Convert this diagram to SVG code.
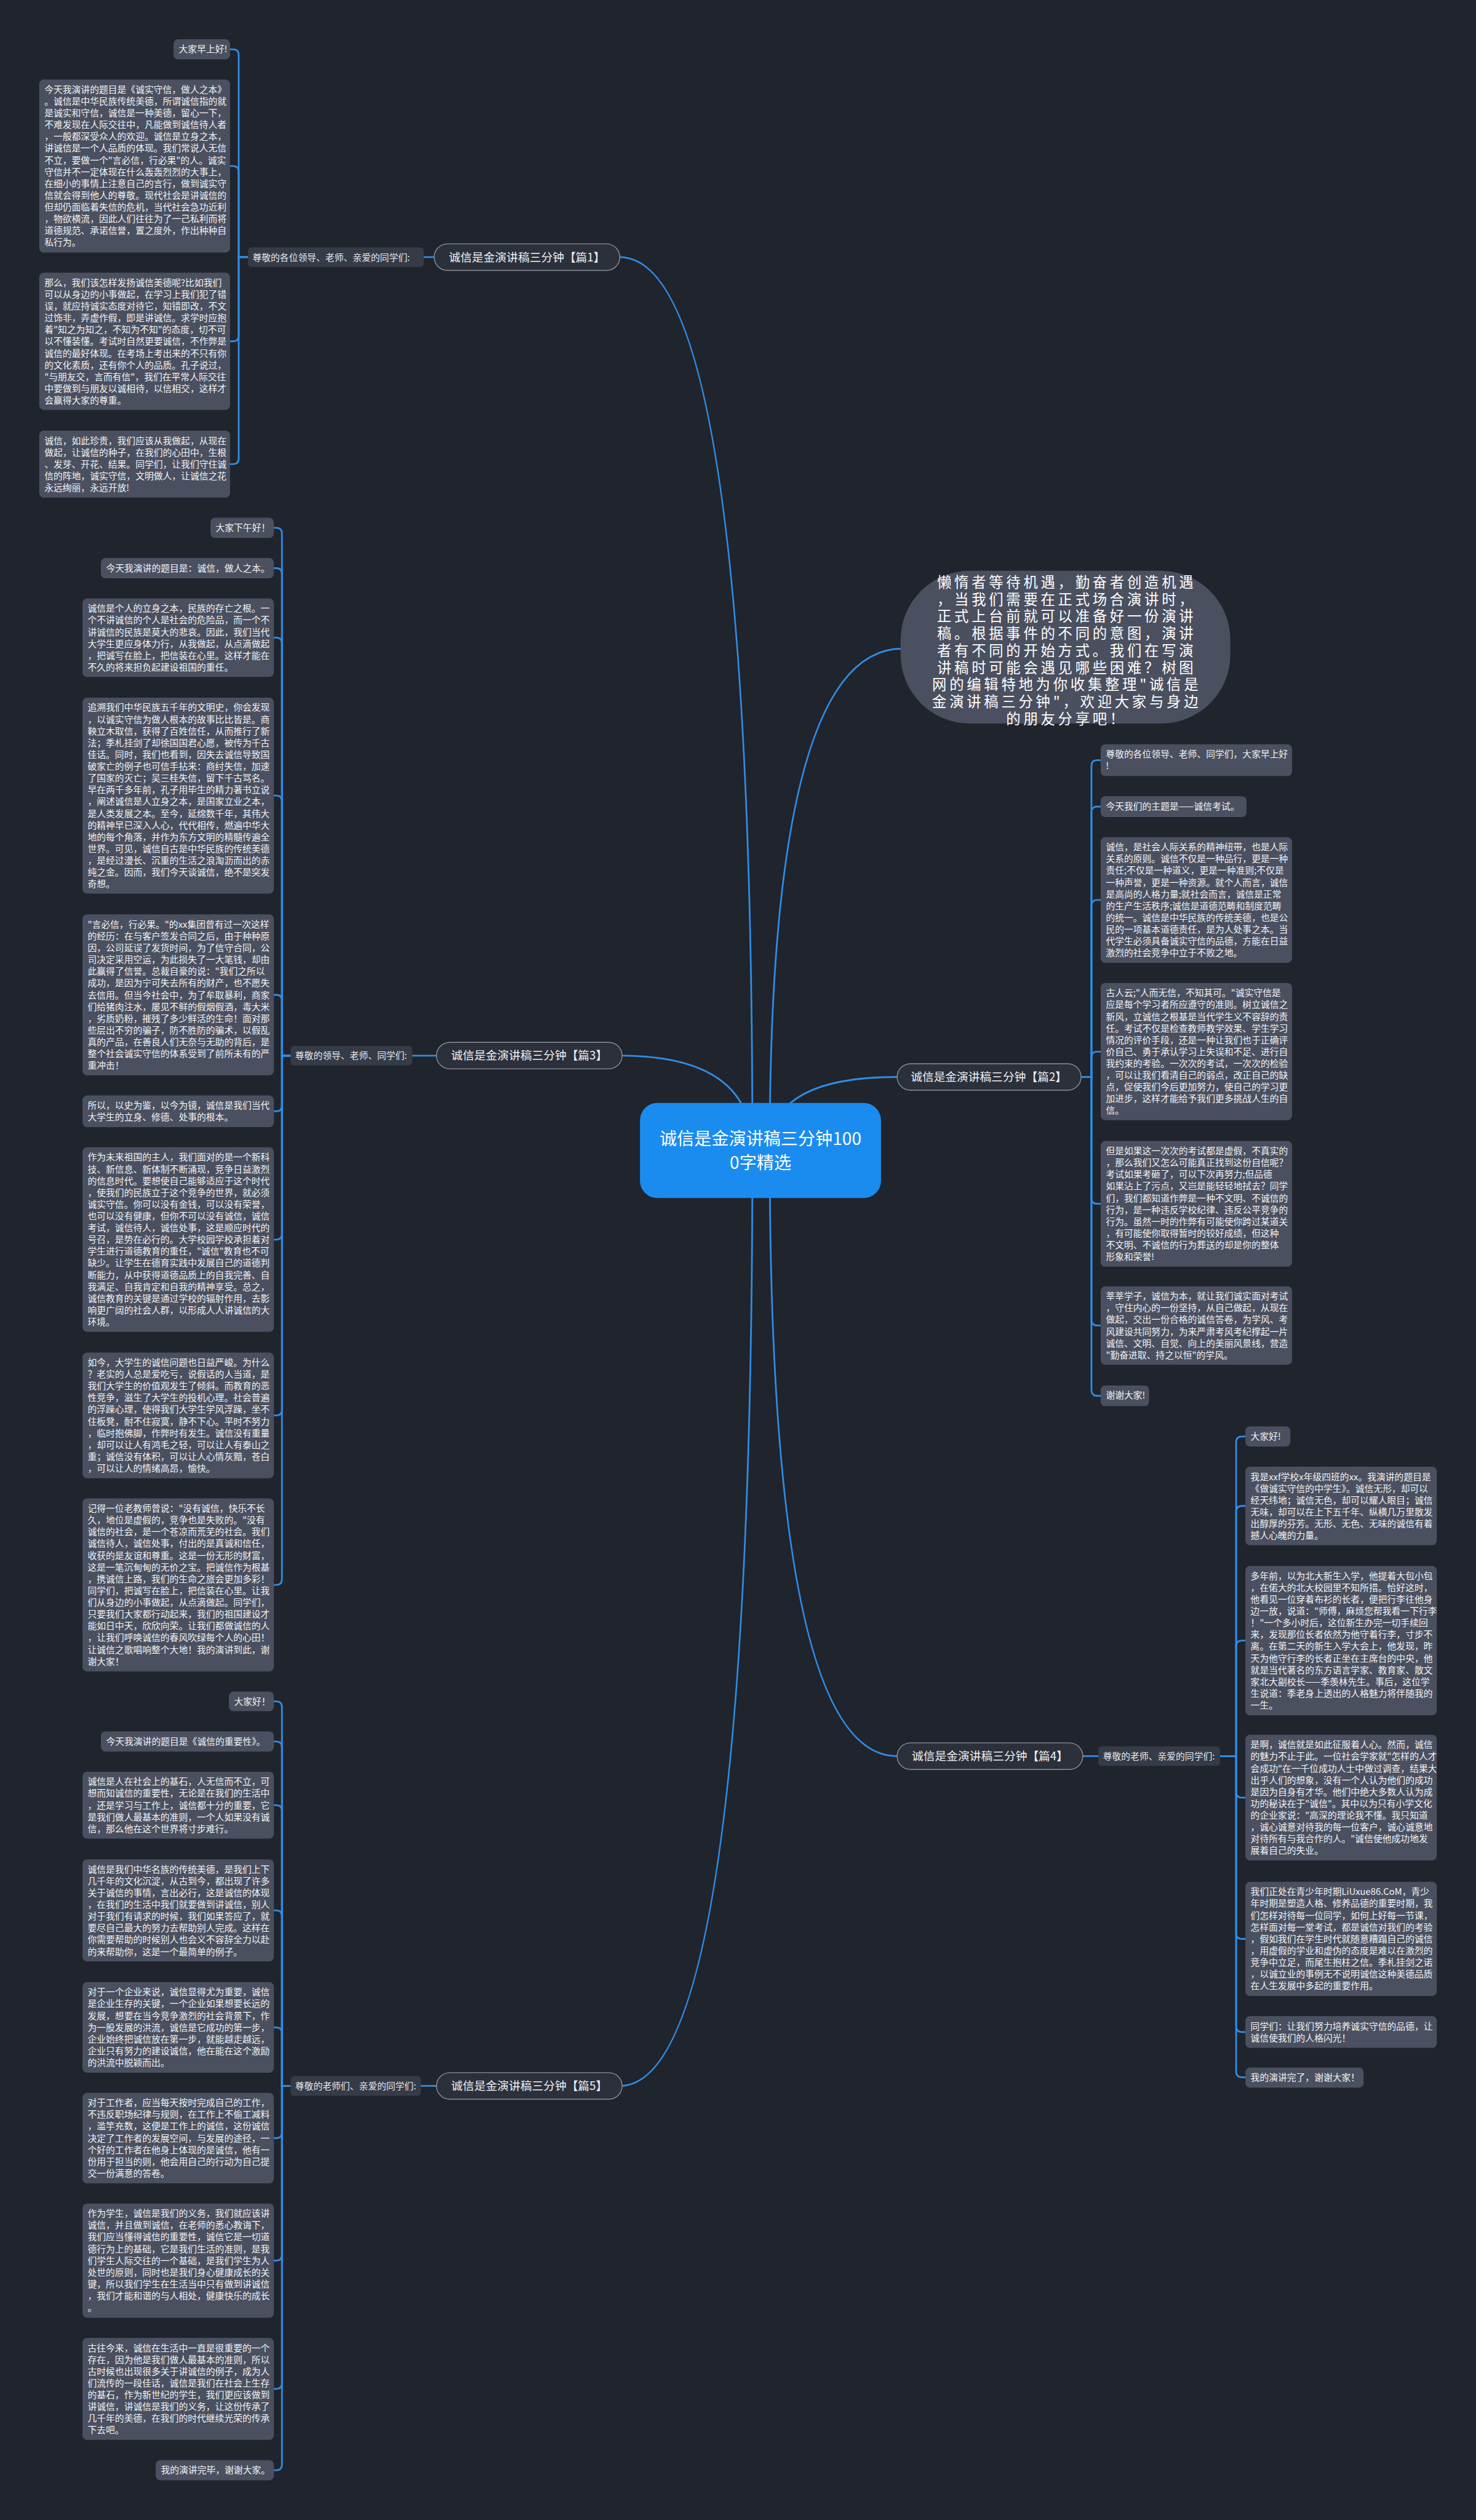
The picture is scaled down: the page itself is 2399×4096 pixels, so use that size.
<svg xmlns="http://www.w3.org/2000/svg" width="2399" height="4096" viewBox="0 0 2399 4096">
<style>
.bg{fill:#20242d}
.box{fill:#4a5060}
.t{font-family:"Noto Sans CJK SC","Noto Sans CJK JP",sans-serif;font-size:15.8px;fill:#f3f4f6}
.lab{fill:#353b47}
.lt{font-family:"Noto Sans CJK SC","Noto Sans CJK JP",sans-serif;font-size:15.8px;fill:#e8eaee}
.sec{fill:#2b303b;stroke:#8a909c;stroke-width:1.5}
.st{font-family:"Noto Sans CJK SC","Noto Sans CJK JP",sans-serif;font-size:20px;fill:#eef0f3;text-anchor:middle}
.c{fill:none;stroke:#2f8de4;stroke-width:3;stroke-linecap:round}
.root{fill:#1a8cf0}
.rt{font-family:"Noto Sans CJK SC","Noto Sans CJK JP",sans-serif;font-size:30px;fill:#ffffff;text-anchor:middle}
.bub{fill:#4a5060}
.bt{font-family:"Noto Sans CJK SC","Noto Sans CJK JP",sans-serif;font-size:25px;letter-spacing:5px;fill:#ffffff;text-anchor:middle}
</style>
<rect class="bg" x="0" y="0" width="2399" height="4096"/>
<g transform="scale(0.93711)">
<g id="connectors">
<path class="c" d="M1305,1995 Q1305,446 1075,446"/>
<path class="c" d="M1305,1995 Q1305,1831 1075,1831"/>
<path class="c" d="M1305,1995 Q1305,3618 1075,3618"/>
<path class="c" d="M1335,1995 Q1335,1868 1556,1868"/>
<path class="c" d="M1335,1995 Q1335,3046 1556,3046"/>
<path class="c" d="M1335,1995 Q1335,1125 1565,1125"/>
<path class="c" d="M735,446 H753"/>
<path class="c" d="M715,1831 H757"/>
<path class="c" d="M730,3618 H757"/>
<path class="c" d="M1878,3046 H1905"/>
<path class="c" d="M430,446 H414 V95.5 Q414,85.5 404,85.5 H399"/>
<path class="c" d="M430,446 H414 V298 Q414,288 404,288 H399"/>
<path class="c" d="M430,446 H414 V582 Q414,592 404,592 H399"/>
<path class="c" d="M430,446 H414 V795 Q414,805 404,805 H399"/>
<path class="c" d="M504,1831 H489 V925.5 Q489,915.5 479,915.5 H475"/>
<path class="c" d="M504,1831 H489 V995.5 Q489,985.5 479,985.5 H475"/>
<path class="c" d="M504,1831 H489 V1116 Q489,1106 479,1106 H475"/>
<path class="c" d="M504,1831 H489 V1390 Q489,1380 479,1380 H475"/>
<path class="c" d="M504,1831 H489 V1735.5 Q489,1725.5 479,1725.5 H475"/>
<path class="c" d="M504,1831 H489 V1917.5 Q489,1927.5 479,1927.5 H475"/>
<path class="c" d="M504,1831 H489 V2140 Q489,2150 479,2150 H475"/>
<path class="c" d="M504,1831 H489 V2445 Q489,2455 479,2455 H475"/>
<path class="c" d="M504,1831 H489 V2739 Q489,2749 479,2749 H475"/>
<path class="c" d="M504,3618 H489 V2961 Q489,2951 479,2951 H475"/>
<path class="c" d="M504,3618 H489 V3030.5 Q489,3020.5 479,3020.5 H475"/>
<path class="c" d="M504,3618 H489 V3141 Q489,3131 479,3131 H475"/>
<path class="c" d="M504,3618 H489 V3323.5 Q489,3313.5 479,3313.5 H475"/>
<path class="c" d="M504,3618 H489 V3526.5 Q489,3516.5 479,3516.5 H475"/>
<path class="c" d="M504,3618 H489 V3698.5 Q489,3708.5 479,3708.5 H475"/>
<path class="c" d="M504,3618 H489 V3911 Q489,3921 479,3921 H475"/>
<path class="c" d="M504,3618 H489 V4133.5 Q489,4143.5 479,4143.5 H475"/>
<path class="c" d="M504,3618 H489 V4274.5 Q489,4284.5 479,4284.5 H475"/>
<path class="c" d="M1875,1868 H1893 V1328.5 Q1893,1318.5 1903,1318.5 H1909"/>
<path class="c" d="M1875,1868 H1893 V1409 Q1893,1399 1903,1399 H1909"/>
<path class="c" d="M1875,1868 H1893 V1571 Q1893,1561 1903,1561 H1909"/>
<path class="c" d="M1875,1868 H1893 V1834 Q1893,1824 1903,1824 H1909"/>
<path class="c" d="M1875,1868 H1893 V2078 Q1893,2088 1903,2088 H1909"/>
<path class="c" d="M1875,1868 H1893 V2289 Q1893,2299 1903,2299 H1909"/>
<path class="c" d="M1875,1868 H1893 V2411 Q1893,2421 1903,2421 H1909"/>
<path class="c" d="M2116,3046 H2144 V2501.5 Q2144,2491.5 2154,2491.5 H2160"/>
<path class="c" d="M2116,3046 H2144 V2622 Q2144,2612 2154,2612 H2160"/>
<path class="c" d="M2116,3046 H2144 V2855.5 Q2144,2845.5 2154,2845.5 H2160"/>
<path class="c" d="M2116,3046 H2144 V3108 Q2144,3118 2154,3118 H2160"/>
<path class="c" d="M2116,3046 H2144 V3353 Q2144,3363 2154,3363 H2160"/>
<path class="c" d="M2116,3046 H2144 V3514.5 Q2144,3524.5 2154,3524.5 H2160"/>
<path class="c" d="M2116,3046 H2144 V3593 Q2144,3603 2154,3603 H2160"/>
</g>

<g id="root">
<rect class="root" x="1110" y="1913" width="418" height="165" rx="30"/>
<text class="rt" x="1319" y="1986">诚信是金演讲稿三分钟100</text>
<text class="rt" x="1319" y="2028">0字精选</text>
</g>

<g id="intro">
<rect class="bub" x="1562" y="990" width="572" height="265" rx="120"/>
<text class="bt" x="1850" y="1019">懒惰者等待机遇，勤奋者创造机遇<tspan x="1850" dy="29.6">，当我们需要在正式场合演讲时，</tspan><tspan x="1850" dy="29.6">正式上台前就可以准备好一份演讲</tspan><tspan x="1850" dy="29.6">稿。根据事件的不同的意图，演讲</tspan><tspan x="1850" dy="29.6">者有不同的开始方式。我们在写演</tspan><tspan x="1850" dy="29.6">讲稿时可能会遇见哪些困难？树图</tspan><tspan x="1850" dy="29.6">网的编辑特地为你收集整理"诚信是</tspan><tspan x="1850" dy="29.6">金演讲稿三分钟"，欢迎大家与身边</tspan><tspan x="1850" dy="29.6">的朋友分享吧！</tspan></text>
</g>

<g id="sec1">
<rect class="sec" x="753" y="423" width="322" height="46" rx="23"/>
<text class="st" x="914" y="453">诚信是金演讲稿三分钟【篇1】</text>
</g>
<g id="sec1-label">
<rect class="lab" x="430" y="429" width="305" height="34" rx="6"/>
<text class="lt" x="438" y="452">尊敬的各位领导、老师、亲爱的同学们:</text>
</g>
<g id="s1n1"><rect class="box" x="301" y="68" width="98" height="35" rx="8"/><text class="t" x="310" y="91">大家早上好!</text></g>
<g id="s1n2"><rect class="box" x="68" y="138" width="331" height="300" rx="8"/>
<text class="t" x="77" y="161">今天我演讲的题目是《诚实守信，做人之本》<tspan x="77" dy="20.4">。诚信是中华民族传统美德，所谓诚信指的就</tspan><tspan x="77" dy="20.4">是诚实和守信，诚信是一种美德，留心一下，</tspan><tspan x="77" dy="20.4">不难发现在人际交往中，凡能做到诚信待人者</tspan><tspan x="77" dy="20.4">，一般都深受众人的欢迎。诚信是立身之本，</tspan><tspan x="77" dy="20.4">讲诚信是一个人品质的体现。我们常说人无信</tspan><tspan x="77" dy="20.4">不立，要做一个"言必信，行必果"的人。诚实</tspan><tspan x="77" dy="20.4">守信并不一定体现在什么轰轰烈烈的大事上，</tspan><tspan x="77" dy="20.4">在细小的事情上注意自己的言行，做到诚实守</tspan><tspan x="77" dy="20.4">信就会得到他人的尊敬。现代社会是讲诚信的</tspan><tspan x="77" dy="20.4">但却仍面临着失信的危机，当代社会急功近利</tspan><tspan x="77" dy="20.4">，物欲横流，因此人们往往为了一己私利而将</tspan><tspan x="77" dy="20.4">道德规范、承诺信誉，置之度外，作出种种自</tspan><tspan x="77" dy="20.4">私行为。</tspan></text></g>
<g id="s1n3"><rect class="box" x="68" y="473" width="331" height="238" rx="8"/>
<text class="t" x="77" y="496">那么，我们该怎样发扬诚信美德呢?比如我们<tspan x="77" dy="20.4">可以从身边的小事做起，在学习上我们犯了错</tspan><tspan x="77" dy="20.4">误，就应持诚实态度对待它，知错即改，不文</tspan><tspan x="77" dy="20.4">过饰非，弄虚作假，即是讲诚信。求学时应抱</tspan><tspan x="77" dy="20.4">着"知之为知之，不知为不知"的态度，切不可</tspan><tspan x="77" dy="20.4">以不懂装懂。考试时自然更要诚信，不作弊是</tspan><tspan x="77" dy="20.4">诚信的最好体现。在考场上考出来的不只有你</tspan><tspan x="77" dy="20.4">的文化素质，还有你个人的品质。孔子说过，</tspan><tspan x="77" dy="20.4">"与朋友交，言而有信"，我们在平常人际交往</tspan><tspan x="77" dy="20.4">中要做到与朋友以诚相待，以信相交，这样才</tspan><tspan x="77" dy="20.4">会赢得大家的尊重。</tspan></text></g>
<g id="s1n4"><rect class="box" x="68" y="747" width="331" height="116" rx="8"/>
<text class="t" x="77" y="770">诚信，如此珍贵，我们应该从我做起，从现在<tspan x="77" dy="20.4">做起，让诚信的种子，在我们的心田中，生根</tspan><tspan x="77" dy="20.4">、发芽、开花、结果。同学们，让我们守住诚</tspan><tspan x="77" dy="20.4">信的阵地，诚实守信，文明做人，让诚信之花</tspan><tspan x="77" dy="20.4">永远绚丽，永远开放!</tspan></text></g>

<g id="sec3">
<rect class="sec" x="757" y="1808" width="322" height="46" rx="23"/>
<text class="st" x="918" y="1838">诚信是金演讲稿三分钟【篇3】</text>
</g>
<g id="sec3-label">
<rect class="lab" x="504" y="1814" width="211" height="34" rx="6"/>
<text class="lt" x="512" y="1837">尊敬的领导、老师、同学们:</text>
</g>
<g id="s3n1"><rect class="box" x="365" y="898" width="110" height="35" rx="8"/><text class="t" x="374" y="921">大家下午好！</text></g>
<g id="s3n2"><rect class="box" x="175" y="968" width="300" height="35" rx="8"/><text class="t" x="184" y="991">今天我演讲的题目是：诚信，做人之本。</text></g>
<g id="s3n3"><rect class="box" x="143" y="1038" width="332" height="136" rx="8"/>
<text class="t" x="152" y="1061">诚信是个人的立身之本，民族的存亡之根。一<tspan x="152" dy="20.4">个不讲诚信的个人是社会的危险品，而一个不</tspan><tspan x="152" dy="20.4">讲诚信的民族是莫大的悲哀。因此，我们当代</tspan><tspan x="152" dy="20.4">大学生更应身体力行，从我做起，从点滴做起</tspan><tspan x="152" dy="20.4">，把诚写在脸上，把信装在心里。这样才能在</tspan><tspan x="152" dy="20.4">不久的将来担负起建设祖国的重任。</tspan></text></g>
<g id="s3n4"><rect class="box" x="143" y="1210" width="332" height="340" rx="8"/>
<text class="t" x="152" y="1233">追溯我们中华民族五千年的文明史，你会发现<tspan x="152" dy="20.4">，以诚实守信为做人根本的故事比比皆是。商</tspan><tspan x="152" dy="20.4">鞅立木取信，获得了百姓信任，从而推行了新</tspan><tspan x="152" dy="20.4">法；季札挂剑了却徐国国君心愿，被传为千古</tspan><tspan x="152" dy="20.4">佳话。同时，我们也看到，因失去诚信导致国</tspan><tspan x="152" dy="20.4">破家亡的例子也可信手拈来：商纣失信，加速</tspan><tspan x="152" dy="20.4">了国家的灭亡；吴三桂失信，留下千古骂名。</tspan><tspan x="152" dy="20.4">早在两千多年前，孔子用毕生的精力著书立说</tspan><tspan x="152" dy="20.4">，阐述诚信是人立身之本，是国家立业之本，</tspan><tspan x="152" dy="20.4">是人类发展之本。至今，延绵数千年，其伟大</tspan><tspan x="152" dy="20.4">的精神早已深入人心，代代相传，燃遍中华大</tspan><tspan x="152" dy="20.4">地的每个角落，并作为东方文明的精髓传遍全</tspan><tspan x="152" dy="20.4">世界。可见，诚信自古是中华民族的传统美德</tspan><tspan x="152" dy="20.4">，是经过漫长、沉重的生活之浪淘沥而出的赤</tspan><tspan x="152" dy="20.4">纯之金。因而，我们今天谈诚信，绝不是突发</tspan><tspan x="152" dy="20.4">奇想。</tspan></text></g>
<g id="s3n5"><rect class="box" x="143" y="1586" width="332" height="279" rx="8"/>
<text class="t" x="152" y="1609">"言必信，行必果。"的xx集团曾有过一次这样<tspan x="152" dy="20.4">的经历：在与客户签发合同之后，由于种种原</tspan><tspan x="152" dy="20.4">因，公司延误了发货时间，为了信守合同，公</tspan><tspan x="152" dy="20.4">司决定采用空运，为此损失了一大笔钱，却由</tspan><tspan x="152" dy="20.4">此赢得了信誉。总裁自豪的说："我们之所以</tspan><tspan x="152" dy="20.4">成功，是因为宁可失去所有的财产，也不愿失</tspan><tspan x="152" dy="20.4">去信用。但当今社会中，为了牟取暴利，商家</tspan><tspan x="152" dy="20.4">们给猪肉注水，屡见不鲜的假烟假酒，毒大米</tspan><tspan x="152" dy="20.4">，劣质奶粉，摧残了多少鲜活的生命！面对那</tspan><tspan x="152" dy="20.4">些层出不穷的骗子，防不胜防的骗术，以假乱</tspan><tspan x="152" dy="20.4">真的产品，在善良人们无奈与无助的背后，是</tspan><tspan x="152" dy="20.4">整个社会诚实守信的体系受到了前所未有的严</tspan><tspan x="152" dy="20.4">重冲击！</tspan></text></g>
<g id="s3n6"><rect class="box" x="143" y="1900" width="332" height="55" rx="8"/>
<text class="t" x="152" y="1923">所以，以史为鉴，以今为镜，诚信是我们当代<tspan x="152" dy="20.4">大学生的立身、修德、处事的根本。</tspan></text></g>
<g id="s3n7"><rect class="box" x="143" y="1990" width="332" height="320" rx="8"/>
<text class="t" x="152" y="2013">作为未来祖国的主人，我们面对的是一个新科<tspan x="152" dy="20.4">技、新信息、新体制不断涌现，竞争日益激烈</tspan><tspan x="152" dy="20.4">的信息时代。要想使自己能够适应于这个时代</tspan><tspan x="152" dy="20.4">，使我们的民族立于这个竞争的世界，就必须</tspan><tspan x="152" dy="20.4">诚实守信。你可以没有金钱，可以没有荣誉，</tspan><tspan x="152" dy="20.4">也可以没有健康，但你不可以没有诚信，诚信</tspan><tspan x="152" dy="20.4">考试，诚信待人，诚信处事，这是顺应时代的</tspan><tspan x="152" dy="20.4">号召，是势在必行的。大学校园学校承担着对</tspan><tspan x="152" dy="20.4">学生进行道德教育的重任，"诚信"教育也不可</tspan><tspan x="152" dy="20.4">缺少。让学生在德育实践中发展自己的道德判</tspan><tspan x="152" dy="20.4">断能力，从中获得道德品质上的自我完善、自</tspan><tspan x="152" dy="20.4">我满足、自我肯定和自我的精神享受。总之，</tspan><tspan x="152" dy="20.4">诚信教育的关键是通过学校的辐射作用，去影</tspan><tspan x="152" dy="20.4">响更广阔的社会人群，以形成人人讲诚信的大</tspan><tspan x="152" dy="20.4">环境。</tspan></text></g>
<g id="s3n8"><rect class="box" x="143" y="2346" width="332" height="218" rx="8"/>
<text class="t" x="152" y="2369">如今，大学生的诚信问题也日益严峻。为什么<tspan x="152" dy="20.4">？老实的人总是爱吃亏，说假话的人当道，是</tspan><tspan x="152" dy="20.4">我们大学生的价值观发生了倾斜。而教育的恶</tspan><tspan x="152" dy="20.4">性竞争，滋生了大学生的投机心理。社会普遍</tspan><tspan x="152" dy="20.4">的浮躁心理，使得我们大学生学风浮躁，坐不</tspan><tspan x="152" dy="20.4">住板凳，耐不住寂寞，静不下心。平时不努力</tspan><tspan x="152" dy="20.4">，临时抱佛脚，作弊时有发生。诚信没有重量</tspan><tspan x="152" dy="20.4">，却可以让人有鸿毛之轻，可以让人有泰山之</tspan><tspan x="152" dy="20.4">重；诚信没有体积，可以让人心情灰黯，苍白</tspan><tspan x="152" dy="20.4">，可以让人的情绪高昂，愉快。</tspan></text></g>
<g id="s3n9"><rect class="box" x="143" y="2599" width="332" height="300" rx="8"/>
<text class="t" x="152" y="2622">记得一位老教师曾说："没有诚信，快乐不长<tspan x="152" dy="20.4">久，地位是虚假的，竞争也是失败的。"没有</tspan><tspan x="152" dy="20.4">诚信的社会，是一个苍凉而荒芜的社会。我们</tspan><tspan x="152" dy="20.4">诚信待人，诚信处事，付出的是真诚和信任，</tspan><tspan x="152" dy="20.4">收获的是友谊和尊重。这是一份无形的财富，</tspan><tspan x="152" dy="20.4">这是一笔沉甸甸的无价之宝。把诚信作为根基</tspan><tspan x="152" dy="20.4">，携诚信上路，我们的生命之旅会更加多彩！</tspan><tspan x="152" dy="20.4">同学们，把诚写在脸上，把信装在心里。让我</tspan><tspan x="152" dy="20.4">们从身边的小事做起，从点滴做起。同学们，</tspan><tspan x="152" dy="20.4">只要我们大家都行动起来，我们的祖国建设才</tspan><tspan x="152" dy="20.4">能如日中天，欣欣向荣。让我们都做诚信的人</tspan><tspan x="152" dy="20.4">，让我们呼唤诚信的春风吹绿每个人的心田！</tspan><tspan x="152" dy="20.4">让诚信之歌唱响整个大地！我的演讲到此，谢</tspan><tspan x="152" dy="20.4">谢大家！</tspan></text></g>

<g id="sec5">
<rect class="sec" x="757" y="3595" width="322" height="46" rx="23"/>
<text class="st" x="918" y="3625">诚信是金演讲稿三分钟【篇5】</text>
</g>
<g id="sec5-label">
<rect class="lab" x="504" y="3601" width="226" height="34" rx="6"/>
<text class="lt" x="512" y="3624">尊敬的老师们、亲爱的同学们:</text>
</g>
<g id="s5n1"><rect class="box" x="397" y="2934" width="78" height="34" rx="8"/><text class="t" x="406" y="2957">大家好！</text></g>
<g id="s5n2"><rect class="box" x="175" y="3003" width="300" height="35" rx="8"/><text class="t" x="184" y="3026">今天我演讲的题目是《诚信的重要性》。</text></g>
<g id="s5n3"><rect class="box" x="143" y="3073" width="332" height="116" rx="8"/>
<text class="t" x="152" y="3096">诚信是人在社会上的基石，人无信而不立，可<tspan x="152" dy="20.4">想而知诚信的重要性，无论是在我们的生活中</tspan><tspan x="152" dy="20.4">，还是学习与工作上，诚信都十分的重要，它</tspan><tspan x="152" dy="20.4">是我们做人最基本的准则，一个人如果没有诚</tspan><tspan x="152" dy="20.4">信，那么他在这个世界将寸步难行。</tspan></text></g>
<g id="s5n4"><rect class="box" x="143" y="3225" width="332" height="177" rx="8"/>
<text class="t" x="152" y="3248">诚信是我们中华名族的传统美德，是我们上下<tspan x="152" dy="20.4">几千年的文化沉淀，从古到今，都出现了许多</tspan><tspan x="152" dy="20.4">关于诚信的事情，言出必行，这是诚信的体现</tspan><tspan x="152" dy="20.4">，在我们的生活中我们就要做到讲诚信，别人</tspan><tspan x="152" dy="20.4">对于我们有请求的时候，我们如果答应了，就</tspan><tspan x="152" dy="20.4">要尽自己最大的努力去帮助别人完成。这样在</tspan><tspan x="152" dy="20.4">你需要帮助的时候别人也会义不容辞全力以赴</tspan><tspan x="152" dy="20.4">的来帮助你，这是一个最简单的例子。</tspan></text></g>
<g id="s5n5"><rect class="box" x="143" y="3438" width="332" height="157" rx="8"/>
<text class="t" x="152" y="3461">对于一个企业来说，诚信显得尤为重要，诚信<tspan x="152" dy="20.4">是企业生存的关键，一个企业如果想要长远的</tspan><tspan x="152" dy="20.4">发展，想要在当今竞争激烈的社会背景下，作</tspan><tspan x="152" dy="20.4">为一股发展的洪流，诚信是它成功的第一步，</tspan><tspan x="152" dy="20.4">企业始终把诚信放在第一步，就能越走越远，</tspan><tspan x="152" dy="20.4">企业只有努力的建设诚信，他在能在这个激励</tspan><tspan x="152" dy="20.4">的洪流中脱颖而出。</tspan></text></g>
<g id="s5n6"><rect class="box" x="143" y="3630" width="332" height="157" rx="8"/>
<text class="t" x="152" y="3653">对于工作者，应当每天按时完成自己的工作，<tspan x="152" dy="20.4">不违反职场纪律与规则，在工作上不偷工减料</tspan><tspan x="152" dy="20.4">，滥竽充数，这便是工作上的诚信，这份诚信</tspan><tspan x="152" dy="20.4">决定了工作者的发展空间，与发展的途径，一</tspan><tspan x="152" dy="20.4">个好的工作者在他身上体现的是诚信，他有一</tspan><tspan x="152" dy="20.4">份用于担当的则，他会用自己的行动为自己提</tspan><tspan x="152" dy="20.4">交一份满意的答卷。</tspan></text></g>
<g id="s5n7"><rect class="box" x="143" y="3822" width="332" height="198" rx="8"/>
<text class="t" x="152" y="3845">作为学生，诚信是我们的义务，我们就应该讲<tspan x="152" dy="20.4">诚信，并且做到诚信，在老师的悉心教诲下，</tspan><tspan x="152" dy="20.4">我们应当懂得诚信的重要性，诚信它是一切道</tspan><tspan x="152" dy="20.4">德行为上的基础，它是我们生活的准则，是我</tspan><tspan x="152" dy="20.4">们学生人际交往的一个基础，是我们学生为人</tspan><tspan x="152" dy="20.4">处世的原则，同时也是我们身心健康成长的关</tspan><tspan x="152" dy="20.4">键，所以我们学生在生活当中只有做到讲诚信</tspan><tspan x="152" dy="20.4">，我们才能和谐的与人相处，健康快乐的成长</tspan><tspan x="152" dy="20.4">。</tspan></text></g>
<g id="s5n8"><rect class="box" x="143" y="4055" width="332" height="177" rx="8"/>
<text class="t" x="152" y="4078">古往今来，诚信在生活中一直是很重要的一个<tspan x="152" dy="20.4">存在，因为他是我们做人最基本的准则，所以</tspan><tspan x="152" dy="20.4">古时候也出现很多关于讲诚信的例子，成为人</tspan><tspan x="152" dy="20.4">们流传的一段佳话，诚信是我们在社会上生存</tspan><tspan x="152" dy="20.4">的基石，作为新世纪的学生，我们更应该做到</tspan><tspan x="152" dy="20.4">讲诚信，讲诚信是我们的义务，让这份传承了</tspan><tspan x="152" dy="20.4">几千年的美德，在我们的时代继续光荣的传承</tspan><tspan x="152" dy="20.4">下去吧。</tspan></text></g>
<g id="s5n9"><rect class="box" x="270" y="4267" width="205" height="35" rx="8"/><text class="t" x="279" y="4290">我的演讲完毕，谢谢大家。</text></g>

<g id="sec2">
<rect class="sec" x="1556" y="1845" width="319" height="46" rx="23"/>
<text class="st" x="1715" y="1875">诚信是金演讲稿三分钟【篇2】</text>
</g>
<g id="s2n1"><rect class="box" x="1909" y="1291" width="332" height="55" rx="8"/>
<text class="t" x="1918" y="1314">尊敬的各位领导、老师、同学们，大家早上好<tspan x="1918" dy="20.4">!</tspan></text></g>
<g id="s2n2"><rect class="box" x="1909" y="1381" width="253" height="36" rx="8"/><text class="t" x="1918" y="1404">今天我们的主题是——诚信考试。</text></g>
<g id="s2n3"><rect class="box" x="1909" y="1452" width="332" height="218" rx="8"/>
<text class="t" x="1918" y="1475">诚信，是社会人际关系的精神纽带，也是人际<tspan x="1918" dy="20.4">关系的原则。诚信不仅是一种品行，更是一种</tspan><tspan x="1918" dy="20.4">责任;不仅是一种道义，更是一种准则;不仅是</tspan><tspan x="1918" dy="20.4">一种声誉，更是一种资源。就个人而言，诚信</tspan><tspan x="1918" dy="20.4">是高尚的人格力量;就社会而言，诚信是正常</tspan><tspan x="1918" dy="20.4">的生产生活秩序;诚信是道德范畴和制度范畴</tspan><tspan x="1918" dy="20.4">的统一。诚信是中华民族的传统美德，也是公</tspan><tspan x="1918" dy="20.4">民的一项基本道德责任，是为人处事之本。当</tspan><tspan x="1918" dy="20.4">代学生必须具备诚实守信的品德，方能在日益</tspan><tspan x="1918" dy="20.4">激烈的社会竞争中立于不败之地。</tspan></text></g>
<g id="s2n4"><rect class="box" x="1909" y="1705" width="332" height="238" rx="8"/>
<text class="t" x="1918" y="1728">古人云;"人而无信，不知其可。"诚实守信是<tspan x="1918" dy="20.4">应是每个学习者所应遵守的准则。树立诚信之</tspan><tspan x="1918" dy="20.4">新风，立诚信之根基是当代学生义不容辞的责</tspan><tspan x="1918" dy="20.4">任。考试不仅是检查教师教学效果、学生学习</tspan><tspan x="1918" dy="20.4">情况的评价手段，还是一种让我们也于正确评</tspan><tspan x="1918" dy="20.4">价自己、勇于承认学习上失误和不足、进行自</tspan><tspan x="1918" dy="20.4">我约束的考验。一次次的考试，一次次的检验</tspan><tspan x="1918" dy="20.4">，可以让我们看清自己的弱点，改正自己的缺</tspan><tspan x="1918" dy="20.4">点，促使我们今后更加努力，使自己的学习更</tspan><tspan x="1918" dy="20.4">加进步，这样才能给予我们更多挑战人生的自</tspan><tspan x="1918" dy="20.4">信。</tspan></text></g>
<g id="s2n5"><rect class="box" x="1909" y="1979" width="332" height="218" rx="8"/>
<text class="t" x="1918" y="2002">但是如果这一次次的考试都是虚假，不真实的<tspan x="1918" dy="20.4">，那么我们又怎么可能真正找到这份自信呢？</tspan><tspan x="1918" dy="20.4">考试如果考砸了，可以下次再努力;但品德</tspan><tspan x="1918" dy="20.4">如果沾上了污点，又岂是能轻轻地拭去？同学</tspan><tspan x="1918" dy="20.4">们，我们都知道作弊是一种不文明、不诚信的</tspan><tspan x="1918" dy="20.4">行为，是一种违反学校纪律、违反公平竞争的</tspan><tspan x="1918" dy="20.4">行为。虽然一时的作弊有可能使你跨过某道关</tspan><tspan x="1918" dy="20.4">，有可能使你取得暂时的较好成绩，但这种</tspan><tspan x="1918" dy="20.4">不文明、不诚信的行为葬送的却是你的整体</tspan><tspan x="1918" dy="20.4">形象和荣誉!</tspan></text></g>
<g id="s2n6"><rect class="box" x="1909" y="2231" width="332" height="136" rx="8"/>
<text class="t" x="1918" y="2254">莘莘学子，诚信为本，就让我们诚实面对考试<tspan x="1918" dy="20.4">，守住内心的一份坚持，从自己做起，从现在</tspan><tspan x="1918" dy="20.4">做起，交出一份合格的诚信答卷，为学风、考</tspan><tspan x="1918" dy="20.4">风建设共同努力，为来严肃考风考纪撑起一片</tspan><tspan x="1918" dy="20.4">诚信、文明、自觉、向上的美丽风景线，营造</tspan><tspan x="1918" dy="20.4">"勤奋进取、持之以恒"的学风。</tspan></text></g>
<g id="s2n7"><rect class="box" x="1909" y="2403" width="84" height="36" rx="8"/><text class="t" x="1918" y="2426">谢谢大家!</text></g>

<g id="sec4">
<rect class="sec" x="1556" y="3023" width="322" height="46" rx="23"/>
<text class="st" x="1717" y="3053">诚信是金演讲稿三分钟【篇4】</text>
</g>
<g id="sec4-label">
<rect class="lab" x="1905" y="3029" width="211" height="34" rx="6"/>
<text class="lt" x="1913" y="3052">尊敬的老师、亲爱的同学们:</text>
</g>
<g id="s4n1"><rect class="box" x="2160" y="2474" width="78" height="35" rx="8"/><text class="t" x="2169" y="2497">大家好!</text></g>
<g id="s4n2"><rect class="box" x="2160" y="2544" width="332" height="136" rx="8"/>
<text class="t" x="2169" y="2567">我是xxf学校x年级四班的xx。我演讲的题目是<tspan x="2169" dy="20.4">《做诚实守信的中学生》。诚信无形，却可以</tspan><tspan x="2169" dy="20.4">经天纬地；诚信无色，却可以耀人眼目；诚信</tspan><tspan x="2169" dy="20.4">无味，却可以在上下五千年、纵横几万里散发</tspan><tspan x="2169" dy="20.4">出醇厚的芬芳。无形、无色、无味的诚信有着</tspan><tspan x="2169" dy="20.4">撼人心魄的力量。</tspan></text></g>
<g id="s4n3"><rect class="box" x="2160" y="2716" width="332" height="259" rx="8"/>
<text class="t" x="2169" y="2739">多年前，以为北大新生入学，他提着大包小包<tspan x="2169" dy="20.4">，在偌大的北大校园里不知所措。恰好这时，</tspan><tspan x="2169" dy="20.4">他看见一位穿着布衫的长者，便把行李往他身</tspan><tspan x="2169" dy="20.4">边一放，说道："师傅，麻烦您帮我看一下行李</tspan><tspan x="2169" dy="20.4">！"一个多小时后，这位新生办完一切手续回</tspan><tspan x="2169" dy="20.4">来，发现那位长者依然为他守着行李，寸步不</tspan><tspan x="2169" dy="20.4">离。在第二天的新生入学大会上，他发现，昨</tspan><tspan x="2169" dy="20.4">天为他守行李的长者正坐在主席台的中央，他</tspan><tspan x="2169" dy="20.4">就是当代著名的东方语言学家、教育家、散文</tspan><tspan x="2169" dy="20.4">家北大副校长——季羡林先生。事后，这位学</tspan><tspan x="2169" dy="20.4">生说道：季老身上透出的人格魅力将伴随我的</tspan><tspan x="2169" dy="20.4">一生。</tspan></text></g>
<g id="s4n4"><rect class="box" x="2160" y="3009" width="332" height="218" rx="8"/>
<text class="t" x="2169" y="3032">是啊，诚信就是如此征服着人心。然而，诚信<tspan x="2169" dy="20.4">的魅力不止于此。一位社会学家就"怎样的人才</tspan><tspan x="2169" dy="20.4">会成功"在一千位成功人士中做过调查，结果大</tspan><tspan x="2169" dy="20.4">出乎人们的想象，没有一个人认为他们的成功</tspan><tspan x="2169" dy="20.4">是因为自身有才华。他们中绝大多数人认为成</tspan><tspan x="2169" dy="20.4">功的秘诀在于"诚信"。其中以为只有小学文化</tspan><tspan x="2169" dy="20.4">的企业家说："高深的理论我不懂。我只知道</tspan><tspan x="2169" dy="20.4">，诚心诚意对待我的每一位客户，诚心诚意地</tspan><tspan x="2169" dy="20.4">对待所有与我合作的人。"诚信使他成功地发</tspan><tspan x="2169" dy="20.4">展着自己的失业。</tspan></text></g>
<g id="s4n5"><rect class="box" x="2160" y="3264" width="332" height="198" rx="8"/>
<text class="t" x="2169" y="3287">我们正处在青少年时期LiUxue86.CoM，青少<tspan x="2169" dy="20.4">年时期是塑造人格、修养品德的重要时期，我</tspan><tspan x="2169" dy="20.4">们怎样对待每一位同学，如何上好每一节课，</tspan><tspan x="2169" dy="20.4">怎样面对每一堂考试，都是诚信对我们的考验</tspan><tspan x="2169" dy="20.4">，假如我们在学生时代就随意糟蹋自己的诚信</tspan><tspan x="2169" dy="20.4">，用虚假的学业和虚伪的态度是难以在激烈的</tspan><tspan x="2169" dy="20.4">竞争中立足，而尾生抱柱之信。季札挂剑之诺</tspan><tspan x="2169" dy="20.4">，以诚立业的事例无不说明诚信这种美德品质</tspan><tspan x="2169" dy="20.4">在人生发展中多起的重要作用。</tspan></text></g>
<g id="s4n6"><rect class="box" x="2160" y="3497" width="332" height="55" rx="8"/>
<text class="t" x="2169" y="3520">同学们：让我们努力培养诚实守信的品德，让<tspan x="2169" dy="20.4">诚信使我们的人格闪光！</tspan></text></g>
<g id="s4n7"><rect class="box" x="2160" y="3586" width="205" height="35" rx="8"/><text class="t" x="2169" y="3609">我的演讲完了，谢谢大家！</text></g>
</g>
</svg>
